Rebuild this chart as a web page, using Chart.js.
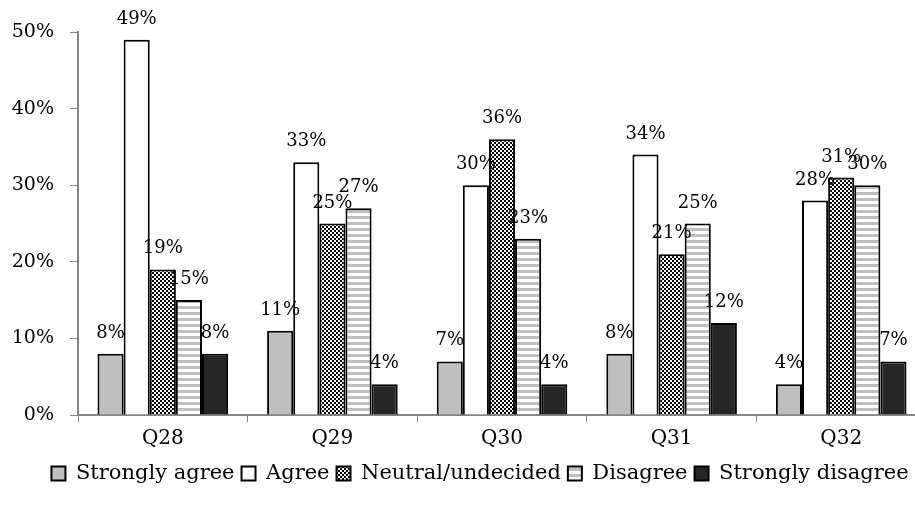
<!DOCTYPE html>
<html>
<head>
<meta charset="utf-8">
<script src="https://cdn.jsdelivr.net/npm/chart.js@4"></script>
<style>
  html, body { margin: 0; padding: 0; background: #fff; overflow: hidden; }
  #wrap { width: 928px; height: 506px; }
</style>
</head>
<body>
<div id="wrap"><canvas id="surveyChart"></canvas></div>
<script>
const questions = ['Q28', 'Q29', 'Q30', 'Q31', 'Q32'];
const stronglyAgree = [8, 11, 7, 8, 4];
const agree = [49, 33, 30, 34, 28];
const neutral = [19, 25, 36, 21, 31];
const disagree = [15, 27, 23, 25, 30];
const stronglyDisagree = [8, 4, 4, 12, 7];
const yTicks = [0, 10, 20, 30, 40, 50];

const FONT = 'DejaVu Serif';

// checkerboard fill for neutral
function checkerPattern() {
  const c = document.createElement('canvas');
  c.width = 4; c.height = 4;
  const g = c.getContext('2d');
  g.fillStyle = '#fff';
  g.fillRect(0, 0, 4, 4);
  g.fillStyle = '#000';
  g.fillRect(0, 0, 2, 2);
  g.fillRect(2, 2, 2, 2);
  return g.createPattern(c, 'repeat');
}

// horizontal stripes for disagree
function stripePattern() {
  const c = document.createElement('canvas');
  c.width = 6; c.height = 6;
  const g = c.getContext('2d');
  g.fillStyle = '#fff';
  g.fillRect(0, 0, 6, 6);
  g.fillStyle = '#bfbfbf';
  g.fillRect(0, 0, 6, 3);
  return g.createPattern(c, 'repeat');
}

const valueLabels = {
  id: 'valueLabels',
  afterDatasetsDraw(chart) {
    const ctx = chart.ctx;
    ctx.save();
    ctx.font = '18px "' + FONT + '"';
    ctx.fillStyle = '#000';
    ctx.textAlign = 'center';
    ctx.textBaseline = 'alphabetic';
    chart.data.datasets.forEach((ds, i) => {
      chart.getDatasetMeta(i).data.forEach((bar, j) => {
        const y = Math.max(bar.y - 16, 24);
        ctx.fillText(ds.data[j] + '%', bar.x, y);
      });
    });
    ctx.restore();
  }
};

// nudge the legend a bit to the right, the original one is not centred on the canvas
const legendShift = {
  id: 'legendShift',
  afterLayout(chart) {
    if (chart.legend) chart.legend.left += 22;
  }
};

function makeSet(label, data, fill) {
  return {
    label: label,
    data: data,
    backgroundColor: fill,
    borderColor: '#000',
    borderWidth: 2,
    borderSkipped: 'bottom'
  };
}

const ctx = document.getElementById('surveyChart').getContext('2d');
const surveyChart = new Chart(ctx, {
  type: 'bar',
  data: {
    labels: questions,
    datasets: [
      makeSet('Strongly agree', stronglyAgree, '#bfbfbf'),
      makeSet('Agree', agree, '#ffffff'),
      makeSet('Neutral/undecided', neutral, checkerPattern()),
      makeSet('Disagree', disagree, stripePattern()),
      makeSet('Strongly disagree', stronglyDisagree, '#262626')
    ]
  },
  options: {
    responsive: true,
    maintainAspectRatio: false,
    animation: false,
    layout: { padding: { left: 12, right: 2, top: 32, bottom: 12 } },
    datasets: {
      bar: { categoryPercentage: 0.77, barPercentage: 1 }
    },
    plugins: {
      legend: {
        position: 'bottom',
        labels: {
          color: '#000',
          font: { family: FONT, size: 21 },
          boxWidth: 14,
          boxHeight: 14,
          padding: 7
        }
      },
      tooltip: { enabled: false }
    },
    scales: {
      x: {
        offset: true,
        grid: {
          display: true,
          drawOnChartArea: false,
          offset: true,
          color: '#868686',
          tickLength: 7
        },
        border: { color: '#868686', width: 2 },
        ticks: { color: '#000', font: { family: FONT, size: 20 }, padding: 5 }
      },
      y: {
        min: 0,
        max: 50,
        afterBuildTicks(scale) {
          scale.ticks = yTicks.map(v => ({ value: v }));
        },
        // keep the axis line at x=78 like the original
        afterFit(scale) {
          scale.width = 66;
        },
        grid: {
          display: true,
          drawOnChartArea: false,
          color: '#868686',
          tickLength: 8
        },
        border: { color: '#868686', width: 2 },
        ticks: {
          color: '#000',
          font: { family: FONT, size: 19 },
          padding: 16,
          callback: v => v + '%'
        }
      }
    }
  },
  plugins: [valueLabels, legendShift]
});
</script>
</body>
</html>
